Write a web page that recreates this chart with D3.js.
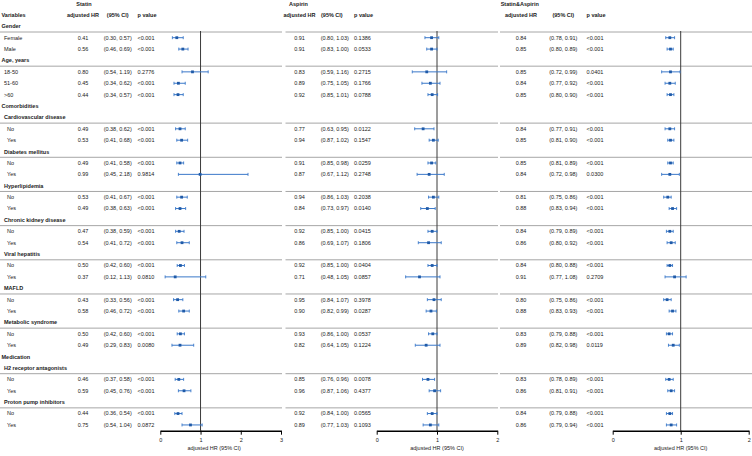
<!DOCTYPE html>
<html><head><meta charset="utf-8">
<script src="https://cdn.jsdelivr.net/npm/d3@7/dist/d3.min.js"></script>
<style>body{margin:0;background:#fff}svg{display:block}text{font-family:"Liberation Sans",Arial,sans-serif;}</style>
</head><body><svg id="c" width="752" height="456"></svg>
<script>
// ---- data ----
const rowLabels = ["Gender","Female","Male","Age, years","18-50","51-60",">60","Comorbidities","Cardiovascular disease","No","Yes","Diabetes mellitus","No","Yes","Hyperlipidemia","No","Yes","Chronic kidney disease","No","Yes","Viral hepatitis","No","Yes","MAFLD","No","Yes","Metabolic syndrome","No","Yes","Medication","H2 receptor antagonists","No","Yes","Proton pump inhibitors","No","Yes"];
const rowLevels = [0,1,1,0,1,1,1,0,1,2,2,1,2,2,1,2,2,1,2,2,1,2,2,1,2,2,1,2,2,0,1,2,2,1,2,2];
const rowIsHeading = [1,0,0,1,0,0,0,1,1,0,0,1,0,0,1,0,0,1,0,0,1,0,0,1,0,0,1,0,0,1,1,0,0,1,0,0];
const rowHasRule = [1,0,0,1,0,0,0,0,1,0,0,1,0,0,1,0,0,1,0,0,1,0,0,1,0,0,1,0,0,0,1,0,0,1,0,0];

const statinHR   = [0.41,0.56,0.80,0.45,0.44,0.49,0.53,0.49,0.99,0.53,0.49,0.47,0.54,0.50,0.37,0.43,0.58,0.50,0.49,0.46,0.59,0.44,0.75];
const statinLow  = [0.30,0.46,0.54,0.34,0.34,0.38,0.41,0.41,0.45,0.41,0.38,0.38,0.41,0.42,0.12,0.33,0.46,0.42,0.29,0.37,0.45,0.36,0.54];
const statinHigh = [0.57,0.69,1.19,0.62,0.57,0.62,0.68,0.58,2.18,0.67,0.63,0.59,0.72,0.60,1.13,0.56,0.72,0.60,0.83,0.58,0.76,0.54,1.04];
const statinP    = ["<0.001","<0.001","0.2776","<0.001","<0.001","<0.001","<0.001","<0.001","0.9814","<0.001","<0.001","<0.001","<0.001","<0.001","0.0810","<0.001","<0.001","<0.001","0.0080","<0.001","<0.001","<0.001","0.0872"];

const aspirinHR   = [0.91,0.91,0.83,0.89,0.92,0.77,0.94,0.91,0.87,0.94,0.84,0.92,0.86,0.92,0.71,0.95,0.90,0.93,0.82,0.85,0.96,0.92,0.89];
const aspirinLow  = [0.80,0.83,0.59,0.75,0.85,0.63,0.87,0.85,0.67,0.86,0.73,0.85,0.69,0.85,0.48,0.84,0.82,0.86,0.64,0.76,0.87,0.84,0.77];
const aspirinHigh = [1.03,1.00,1.16,1.05,1.01,0.95,1.02,0.98,1.12,1.03,0.97,1.00,1.07,1.00,1.05,1.07,0.99,1.00,1.05,0.96,1.06,1.00,1.03];
const aspirinP    = ["0.1386","0.0533","0.2715","0.1766","0.0788","0.0122","0.1547","0.0259","0.2748","0.2038","0.0140","0.0415","0.1806","0.0404","0.0857","0.3978","0.0287","0.0537","0.1224","0.0078","0.4377","0.0565","0.1093"];

const comboHR   = [0.84,0.85,0.85,0.84,0.85,0.84,0.85,0.85,0.84,0.81,0.88,0.84,0.86,0.84,0.91,0.80,0.88,0.83,0.89,0.83,0.86,0.84,0.86];
const comboLow  = [0.78,0.80,0.72,0.77,0.80,0.77,0.81,0.81,0.72,0.75,0.83,0.79,0.80,0.80,0.77,0.75,0.83,0.79,0.82,0.78,0.81,0.79,0.79];
const comboHigh = [0.91,0.89,0.99,0.92,0.90,0.91,0.90,0.89,0.98,0.86,0.94,0.89,0.92,0.88,1.08,0.86,0.93,0.88,0.98,0.89,0.91,0.88,0.94];
const comboP    = ["<0.001","<0.001","0.0401","<0.001","<0.001","<0.001","<0.001","<0.001","0.0300","<0.001","<0.001","<0.001","<0.001","<0.001","0.2709","<0.001","<0.001","<0.001","0.0119","<0.001","<0.001","<0.001","<0.001"];

const panelNames = ["Statin","Aspirin","Statin&Aspirin"];
const ticksStatin = [0,1,2,3];
const ticksOther = [0,1,2];
const axisTitle = "adjusted HR (95% CI)";

// ---- layout ----
const svg = d3.select("#c");
const FS = 5.5;
const y = d3.scaleLinear().domain([0, 35]).range([26.3, 26.3 + 35*11.39]);
const yHead = 14.9, yTop = 4;
const axisY = 430.7;
const panels = [
  {name:panelNames[0], hr:statinHR, lo:statinLow, hi:statinHigh, p:statinP, ticks:ticksStatin,
   range:[160.3,281], hrX:83, ciX:117.7, ciAnchor:"middle", ciHeadX:117.7, ciHeadAnchor:"middle", pX:137.5, nameX:84, nameAnchor:"middle", titleAt:1.34, rule:[0,282]},
  {name:panelNames[1], hr:aspirinHR, lo:aspirinLow, hi:aspirinHigh, p:aspirinP, ticks:ticksOther,
   range:[376.7,497.3], hrX:299.5, ciX:320.7, ciAnchor:"start", ciHeadX:321, ciHeadAnchor:"start", pX:354, nameX:298.5, nameAnchor:"middle", titleAt:1, rule:[285.5,498]},
  {name:panelNames[2], hr:comboHR, lo:comboLow, hi:comboHigh, p:comboP, ticks:ticksOther,
   range:[612.7,748.7], hrX:521, ciX:563.3, ciAnchor:"middle", ciHeadX:563.3, ciHeadAnchor:"middle", pX:586.5, nameX:500.7, nameAnchor:"start", titleAt:1, rule:[500,752]}
];

function txt(g, x, yy, s, opt={}) {
  return g.append("text").attr("x", x).attr("y", yy).attr("dy","0.35em")
    .attr("font-size", opt.size||FS).attr("font-weight", opt.bold?"bold":"normal")
    .attr("text-anchor", opt.anchor||"start").attr("fill", opt.fill||"#1a1a1a").text(s);
}

// row indices of data rows
const dataRows = [];
rowLabels.forEach((l,i)=>{ if(!rowIsHeading[i]) dataRows.push(i); });

// separator rules
const gRules = svg.append("g");
panels.forEach(P=>{
  rowHasRule.forEach((r,i)=>{
    if(!r) return;
    const yy = y(i) + 5.7;
    gRules.append("line").attr("x1",P.rule[0]).attr("x2",P.rule[1]).attr("y1",yy).attr("y2",yy)
      .attr("stroke","#a6a6a6").attr("stroke-width",1);
  });
});

// variables column
const gL = svg.append("g");
txt(gL, 1.5, yHead, "Variables", {bold:true});
const indent = [1.5, 4, 7];
rowLabels.forEach((l,i)=>{
  txt(gL, indent[rowLevels[i]], y(i), l, {bold: !!rowIsHeading[i]});
});

panels.forEach(P=>{
  const g = svg.append("g");
  const x = d3.scaleLinear().domain([0, P.ticks[P.ticks.length-1]]).range(P.range);
  txt(g, P.nameX, yTop, P.name, {bold:true, anchor:P.nameAnchor});
  txt(g, P.hrX, yHead, "adjusted HR", {bold:true, anchor:"middle"});
  txt(g, P.ciHeadX, yHead, "(95% CI)", {bold:true, anchor:P.ciHeadAnchor});
  txt(g, P.pX, yHead, "p value", {bold:true});
  // reference line
  g.append("line").attr("x1",x(1)).attr("x2",x(1)).attr("y1",31).attr("y2",axisY)
    .attr("stroke","#3a3a3a").attr("stroke-width",1);
  dataRows.forEach((ri,k)=>{
    const yy = y(ri);
    txt(g, P.hrX, yy, P.hr[k].toFixed(2), {anchor:"middle"});
    txt(g, P.ciX, yy, "(" + P.lo[k].toFixed(2) + ", " + P.hi[k].toFixed(2) + ")", {anchor:P.ciAnchor});
    txt(g, P.pX, yy, P.p[k]);
    const c = "#3a78c9";
    g.append("line").attr("x1",x(P.lo[k])).attr("x2",x(P.hi[k])).attr("y1",yy).attr("y2",yy)
      .attr("stroke",c).attr("stroke-width",1);
    [P.lo[k],P.hi[k]].forEach(v=>{
      g.append("line").attr("x1",x(v)).attr("x2",x(v)).attr("y1",yy-1.5).attr("y2",yy+1.5)
        .attr("stroke",c).attr("stroke-width",0.9);
    });
    g.append("rect").attr("x",x(P.hr[k])-1.4).attr("y",yy-1.4).attr("width",2.8).attr("height",2.8)
      .attr("fill","#1f5aa8");
  });
  // axis
  const ax = g.append("g").attr("transform",`translate(0,${axisY})`)
    .call(d3.axisBottom(x).tickValues(P.ticks).tickFormat(d3.format("d")).tickSize(4).tickSizeOuter(0));
  ax.select(".domain").attr("stroke","#000").attr("stroke-width",1.4);
  ax.selectAll(".tick line").attr("stroke","#000").attr("stroke-width",1);
  ax.selectAll(".tick text").attr("font-size",FS).attr("font-family","Liberation Sans, Arial, sans-serif")
    .attr("fill","#1a1a1a").attr("y",7);
  txt(g, x(P.titleAt), 448.3, axisTitle, {anchor:"middle"});
});
</script></body></html>
